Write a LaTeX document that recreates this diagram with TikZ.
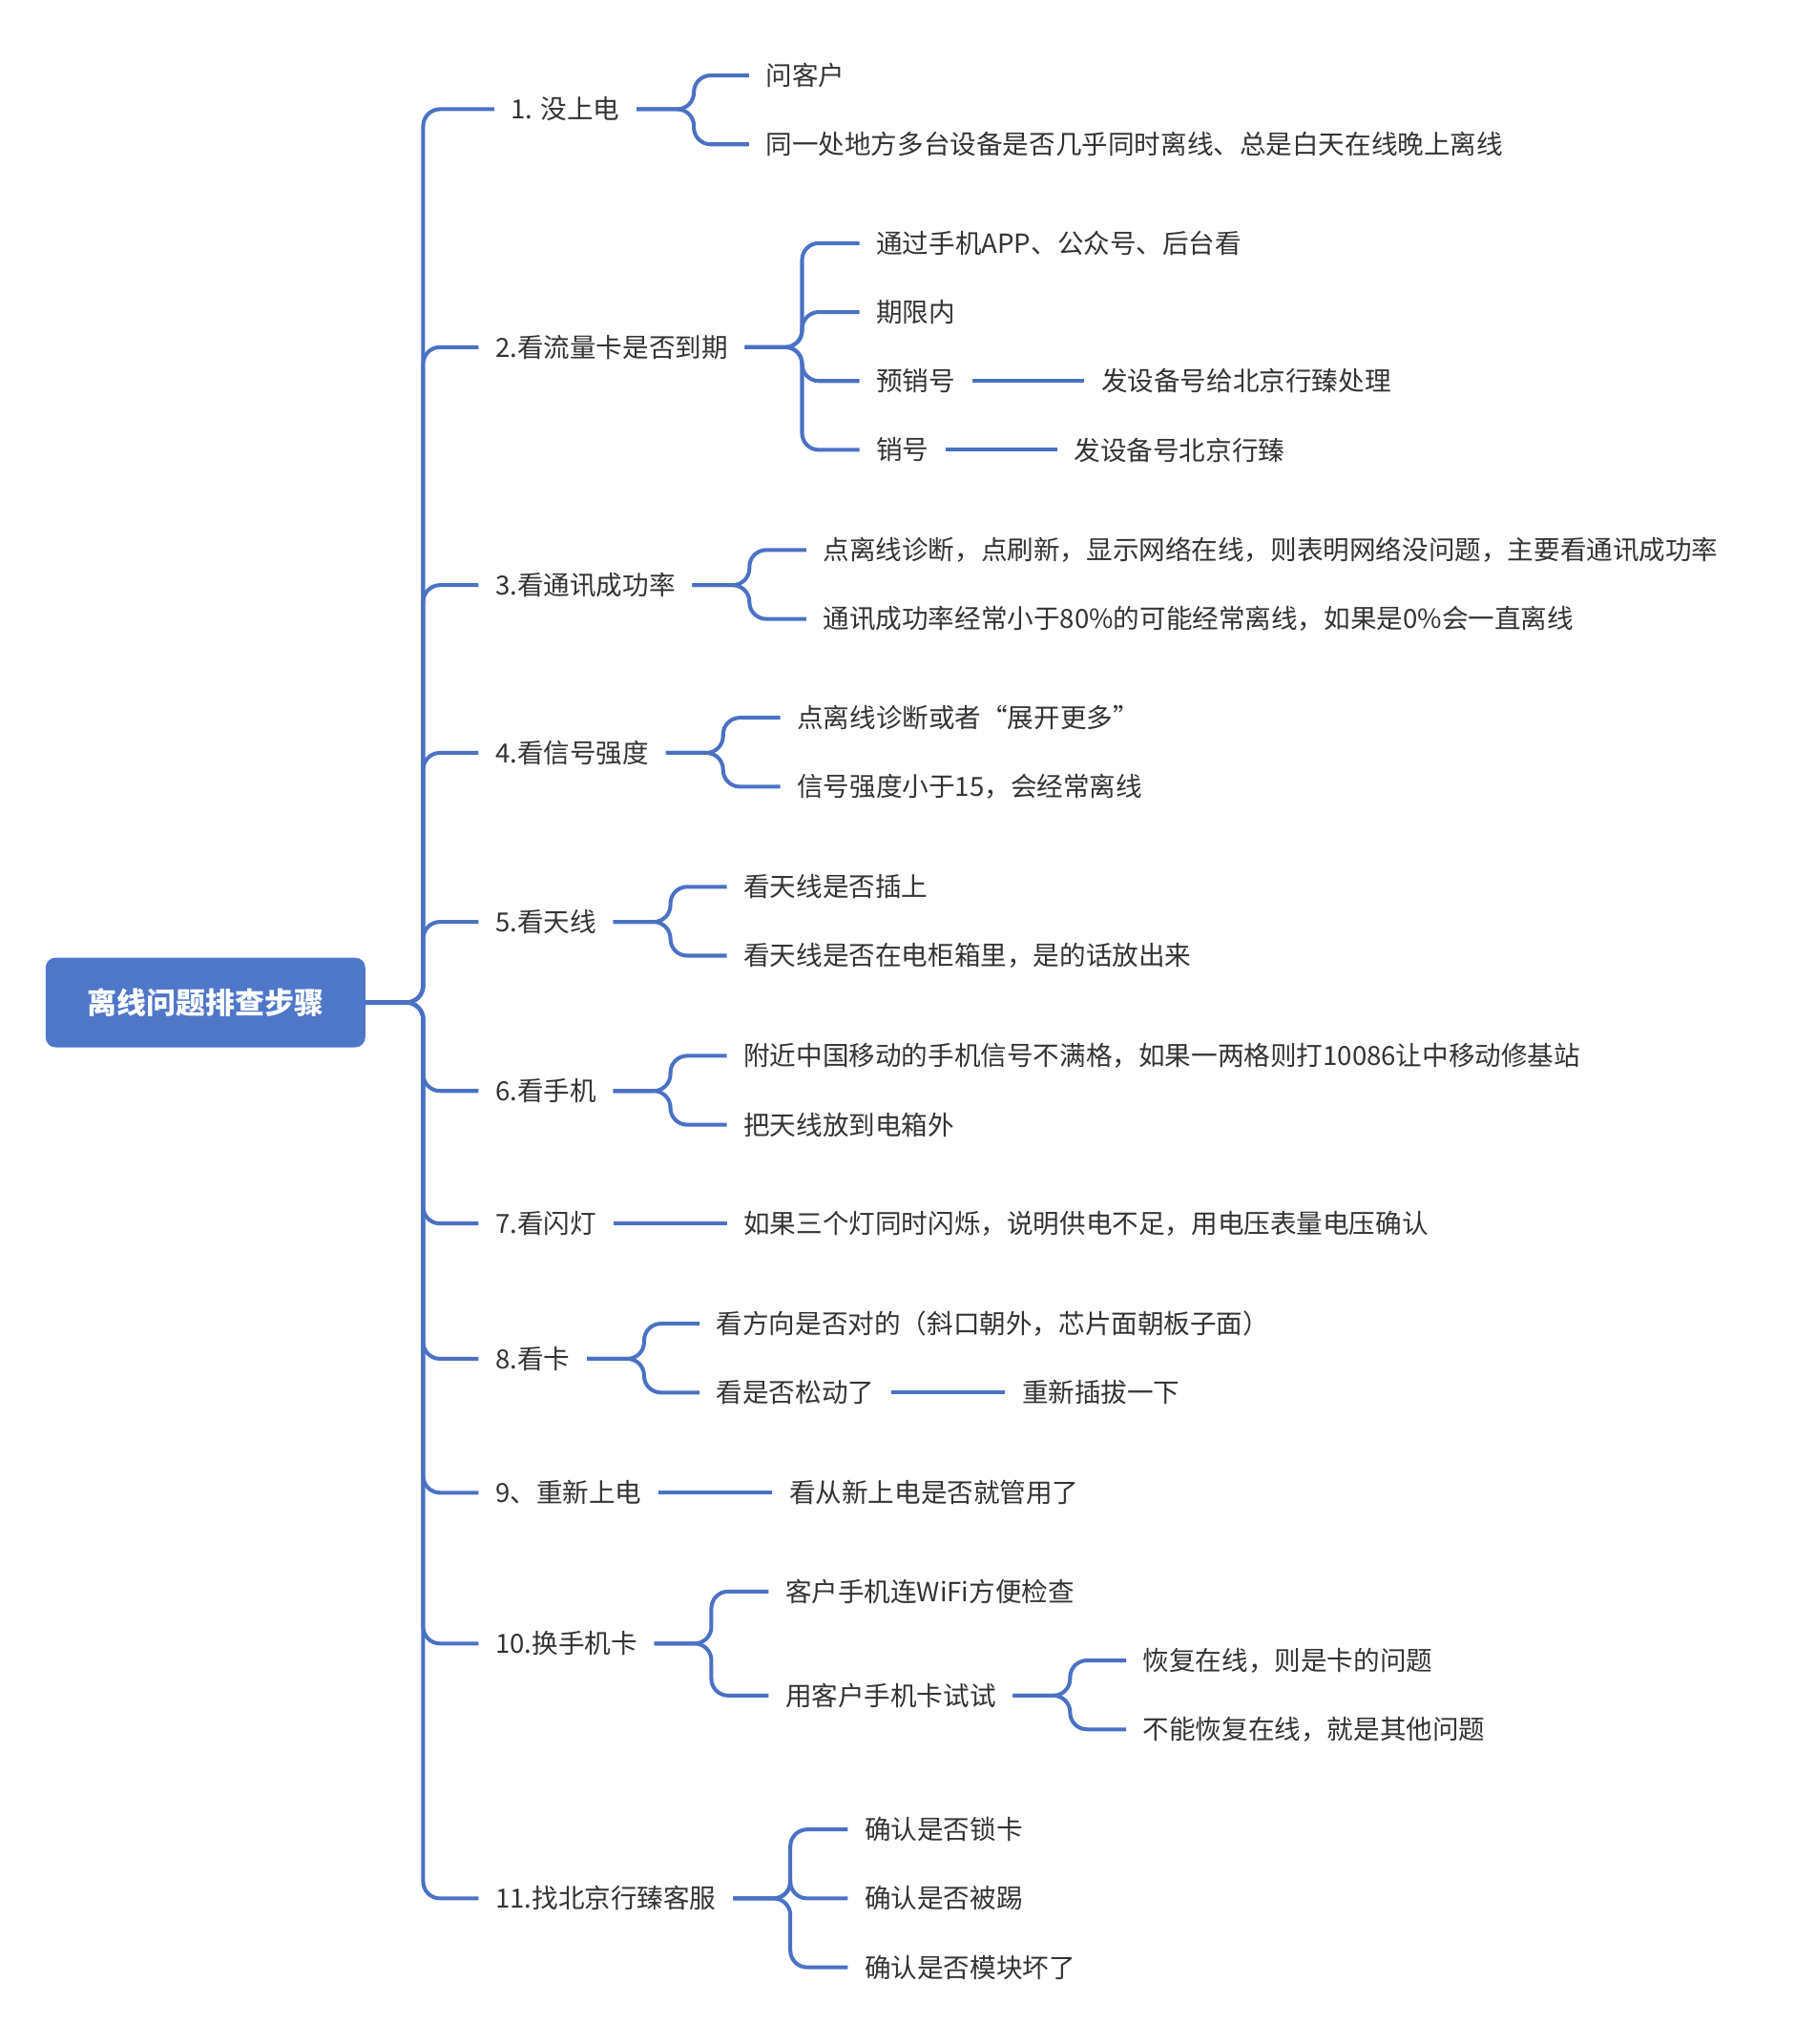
\documentclass[tikz,border=0pt]{standalone}
\usepackage{fontspec}
\setmainfont{Noto Sans CJK SC}
\usetikzlibrary{positioning}
\definecolor{linkblue}{HTML}{4A72C4}
\definecolor{rootblue}{HTML}{4F77C8}
\definecolor{txt}{HTML}{333333}
\tikzset{
  br/.style={draw=linkblue, line width=1.15pt, rounded corners=5pt},
  item/.style={anchor=west, inner xsep=0.17cm, inner ysep=1pt, text=txt, font=\fontsize{7.85}{9}\selectfont},
  rootbox/.style={fill=rootblue, rounded corners=3pt, text=white, font=\fontsize{8.8}{10}\selectfont\bfseries, minimum width=3.35cm, minimum height=0.94cm}
}
\begin{document}
\begin{tikzpicture}[x=0.013623cm, y=-0.013623cm]
      \useasboundingbox (0,0) rectangle (1380,1572);

      % root
      \node[rootbox] (root) at (158,771) {离线问题排查步骤};

      % level one
      \node[item] (s1) at (380,84) {1. 没上电};
      \node[item] (s2) at (368,267) {2.看流量卡是否到期};
      \node[item] (s3) at (368,450) {3.看通讯成功率};
      \node[item] (s4) at (368,579) {4.看信号强度};
      \node[item] (s5) at (368,709) {5.看天线};
      \node[item] (s6) at (368,839) {6.看手机};
      \node[item] (s7) at (368,941) {7.看闪灯};
      \node[item] (s8) at (368,1045) {8.看卡};
      \node[item] (s9) at (368,1148) {9、重新上电};
      \node[item] (s10) at (368,1264) {10.换手机卡};
      \node[item] (s11) at (368,1460) {11.找北京行臻客服};
      \foreach \i in {1,...,11} {
        \draw[br] (root.east) -- ++(44,0) |- (s\i.west);
      }

      % 1
      \node[item] (s1a) at (576,58) {问客户};
      \node[item] (s1b) at (576,111) {同一处地方多台设备是否几乎同时离线、总是白天在线晚上离线};
      \foreach \j in {a,b} \draw[br] (s1.east) -- ++(44,0) |- (s1\j.west);

      % 2
      \node[item] (s2a) at (661,187) {通过手机APP、公众号、后台看};
      \node[item] (s2b) at (661,240) {期限内};
      \node[item] (s2c) at (661,293) {预销号};
      \node[item] (s2d) at (661,346) {销号};
      \foreach \j in {a,b,c,d} \draw[br] (s2.east) -- ++(44,0) |- (s2\j.west);
      \node[item] (s2c1) at (834,293) {发设备号给北京行臻处理};
      \node[item] (s2d1) at (813,346) {发设备号北京行臻};
      \draw[br] (s2c) -- (s2c1);
      \draw[br] (s2d) -- (s2d1);

      % 3
      \node[item] (s3a) at (620,423) {点离线诊断，点刷新，显示网络在线，则表明网络没问题，主要看通讯成功率};
      \node[item] (s3b) at (620,476) {通讯成功率经常小于80\%的可能经常离线，如果是0\%会一直离线};
      \foreach \j in {a,b} \draw[br] (s3.east) -- ++(44,0) |- (s3\j.west);

      % 4
      \node[item] (s4a) at (600,552) {点离线诊断或者“展开更多”};
      \node[item] (s4b) at (600,605) {信号强度小于15，会经常离线};
      \foreach \j in {a,b} \draw[br] (s4.east) -- ++(44,0) |- (s4\j.west);

      % 5
      \node[item] (s5a) at (559,682) {看天线是否插上};
      \node[item] (s5b) at (559,735) {看天线是否在电柜箱里，是的话放出来};
      \foreach \j in {a,b} \draw[br] (s5.east) -- ++(44,0) |- (s5\j.west);

      % 6
      \node[item] (s6a) at (559,812) {附近中国移动的手机信号不满格，如果一两格则打10086让中移动修基站};
      \node[item] (s6b) at (559,865) {把天线放到电箱外};
      \foreach \j in {a,b} \draw[br] (s6.east) -- ++(44,0) |- (s6\j.west);

      % 7
      \node[item] (s7a) at (559,941) {如果三个灯同时闪烁，说明供电不足，用电压表量电压确认};
      \draw[br] (s7) -- (s7a);

      % 8
      \node[item] (s8a) at (538,1018) {看方向是否对的（斜口朝外，芯片面朝板子面）};
      \node[item] (s8b) at (538,1071) {看是否松动了};
      \foreach \j in {a,b} \draw[br] (s8.east) -- ++(44,0) |- (s8\j.west);
      \node[item] (s8b1) at (773,1071) {重新插拔一下};
      \draw[br] (s8b) -- (s8b1);

      % 9
      \node[item] (s9a) at (594,1148) {看从新上电是否就管用了};
      \draw[br] (s9) -- (s9a);

      % 10
      \node[item] (s10a) at (591,1224) {客户手机连WiFi方便检查};
      \node[item] (s10b) at (591,1304) {用客户手机卡试试};
      \foreach \j in {a,b} \draw[br] (s10.east) -- ++(44,0) |- (s10\j.west);
      \node[item] (s10b1) at (866,1277) {恢复在线，则是卡的问题};
      \node[item] (s10b2) at (866,1330) {不能恢复在线，就是其他问题};
      \foreach \j in {1,2} \draw[br] (s10b.east) -- ++(44,0) |- (s10b\j.west);

      % 11
      \node[item] (s11a) at (652,1407) {确认是否锁卡};
      \node[item] (s11b) at (652,1460) {确认是否被踢};
      \node[item] (s11c) at (652,1513) {确认是否模块坏了};
      \foreach \j in {a,b,c} \draw[br] (s11.east) -- ++(44,0) |- (s11\j.west);

    \end{tikzpicture}
\end{document}
